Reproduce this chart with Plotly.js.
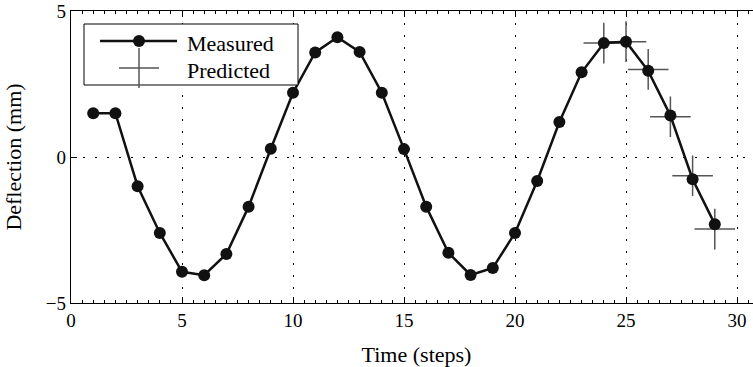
<!DOCTYPE html>
<html>
<head>
<meta charset="utf-8">
<script src="https://cdn.plot.ly/plotly-3.0.1.min.js"></script>
</head>
<body style="margin:0;overflow:hidden">
<div style="width:753px;height:367px;overflow:hidden">
<div id="chart" style="width:762px;height:367px;"></div>
</div>
<script>
// ---- data ----
const timeSteps = [1,2,3,4,5,6,7,8,9,10,11,12,13,14,15,16,17,18,19,20,21,22,23,24,25,26,27,28,29];
const measured  = [1.5,1.5,-1.0,-2.6,-3.93,-4.05,-3.32,-1.7,0.28,2.2,3.58,4.1,3.6,2.2,0.27,-1.7,-3.28,-4.04,-3.8,-2.6,-0.82,1.2,2.9,3.9,3.95,2.95,1.42,-0.76,-2.3];
const predTime  = [24,25,26,27,28,29];
const predicted = [3.9,3.95,3.0,1.38,-0.64,-2.47];
const xTickVals = [0,5,10,15,20,25,30];
const yTickVals = [-5,0,5];
const yTickText = ['\u22125','0','5'];
const legendLabels = ['Measured','Predicted'];

// ---- layout helpers (pixel -> paper) ----
const W = 762;
const L = 71, R = W, T = 11, B = 303;
const X = px => (px - L) / (R - L);
const Y = py => (B - py) / (B - T);

const FAM = 'Liberation Serif';
const ink = '#111';
const grey = '#555';

const predTrace = {
  x: predTime, y: predicted, xaxis: 'x', yaxis: 'y',
  mode: 'markers', name: legendLabels[1], showlegend: false, hoverinfo: 'skip',
  marker: {symbol: 'cross-thin-open', size: 29, color: grey, line: {color: grey, width: 1.5}}
};
const measTrace = {
  x: timeSteps, y: measured, xaxis: 'x2', yaxis: 'y',
  mode: 'lines+markers', name: legendLabels[0], showlegend: false, hoverinfo: 'skip',
  line: {color: ink, width: 2.5},
  marker: {symbol: 'circle', size: 12, color: ink}
};

const xRange = [0, (W - L) / 22.2];
function xAxisBase() {
  return {
    range: xRange, tickmode: 'array', tickvals: xTickVals,
    ticks: 'inside', ticklen: 6, tickwidth: 1, tickcolor: '#000',
    showline: true, linecolor: '#000', linewidth: 1.3,
    zeroline: false,
    minor: {dtick: 0.5, tick0: 0, ticks: 'inside', ticklen: 3, tickwidth: 1, tickcolor: '#000', showgrid: false}
  };
}

const xaxis = xAxisBase();
xaxis.showticklabels = true;
xaxis.tickfont = {family: FAM, size: 19, color: '#000'};
xaxis.showgrid = true; xaxis.gridcolor = '#000'; xaxis.gridwidth = 1; xaxis.griddash = '1.5px,10.5px';
xaxis.title = {text: 'Time (steps)', font: {family: FAM, size: 22, color: '#000'}, standoff: 23};

const xaxis2 = xAxisBase();
xaxis2.overlaying = 'x'; xaxis2.matches = 'x'; xaxis2.side = 'top'; xaxis2.anchor = 'y';
xaxis2.showticklabels = false; xaxis2.showgrid = false;

const layout = {
  width: W, height: 367,
  margin: {l: L, r: 0, t: T, b: 367 - B, pad: 0},
  paper_bgcolor: '#fff', plot_bgcolor: '#fff',
  showlegend: false,
  xaxis: xaxis,
  xaxis2: xaxis2,
  yaxis: {
    range: [-5, 5], tickmode: 'array', tickvals: yTickVals, ticktext: yTickText,
    ticks: 'inside', ticklen: 6, tickwidth: 1, tickcolor: '#000',
    showline: true, linecolor: '#000', linewidth: 1.3,
    zeroline: false,
    showgrid: true, gridcolor: '#000', gridwidth: 1, griddash: '1.5px,10.5px',
    tickfont: {family: FAM, size: 19, color: '#000'},
    title: {text: 'Deflection (mm)', font: {family: FAM, size: 22, color: '#000'}, standoff: 18}
  },
  shapes: [
    {type: 'rect', xref: 'paper', yref: 'paper', x0: X(84), x1: X(298), y0: Y(85), y1: Y(24),
     line: {color: '#000', width: 1}, fillcolor: '#fff', layer: 'above'},
    {type: 'line', xref: 'paper', yref: 'paper', x0: X(100), x1: X(177), y0: Y(41), y1: Y(41),
     line: {color: ink, width: 2.5}},
    {type: 'line', xref: 'paper', yref: 'paper', x0: X(119), x1: X(159), y0: Y(68), y1: Y(68),
     line: {color: grey, width: 1.5}},
    {type: 'line', xref: 'paper', yref: 'paper', x0: X(139), x1: X(139), y0: Y(48), y1: Y(88),
     line: {color: grey, width: 1.5}},
    {type: 'circle', xref: 'paper', yref: 'paper', x0: X(133), x1: X(145), y0: Y(47), y1: Y(35),
     line: {color: ink, width: 0}, fillcolor: ink}
  ],
  annotations: [
    {xref: 'paper', yref: 'paper', x: X(185), y: Y(43), xanchor: 'left', yanchor: 'middle',
     text: legendLabels[0], showarrow: false, font: {family: FAM, size: 22, color: '#000'}},
    {xref: 'paper', yref: 'paper', x: X(185), y: Y(70), xanchor: 'left', yanchor: 'middle',
     text: legendLabels[1], showarrow: false, font: {family: FAM, size: 22, color: '#000'}}
  ]
};

Plotly.newPlot('chart', [predTrace, measTrace], layout, {displayModeBar: false});
</script>
</body>
</html>
